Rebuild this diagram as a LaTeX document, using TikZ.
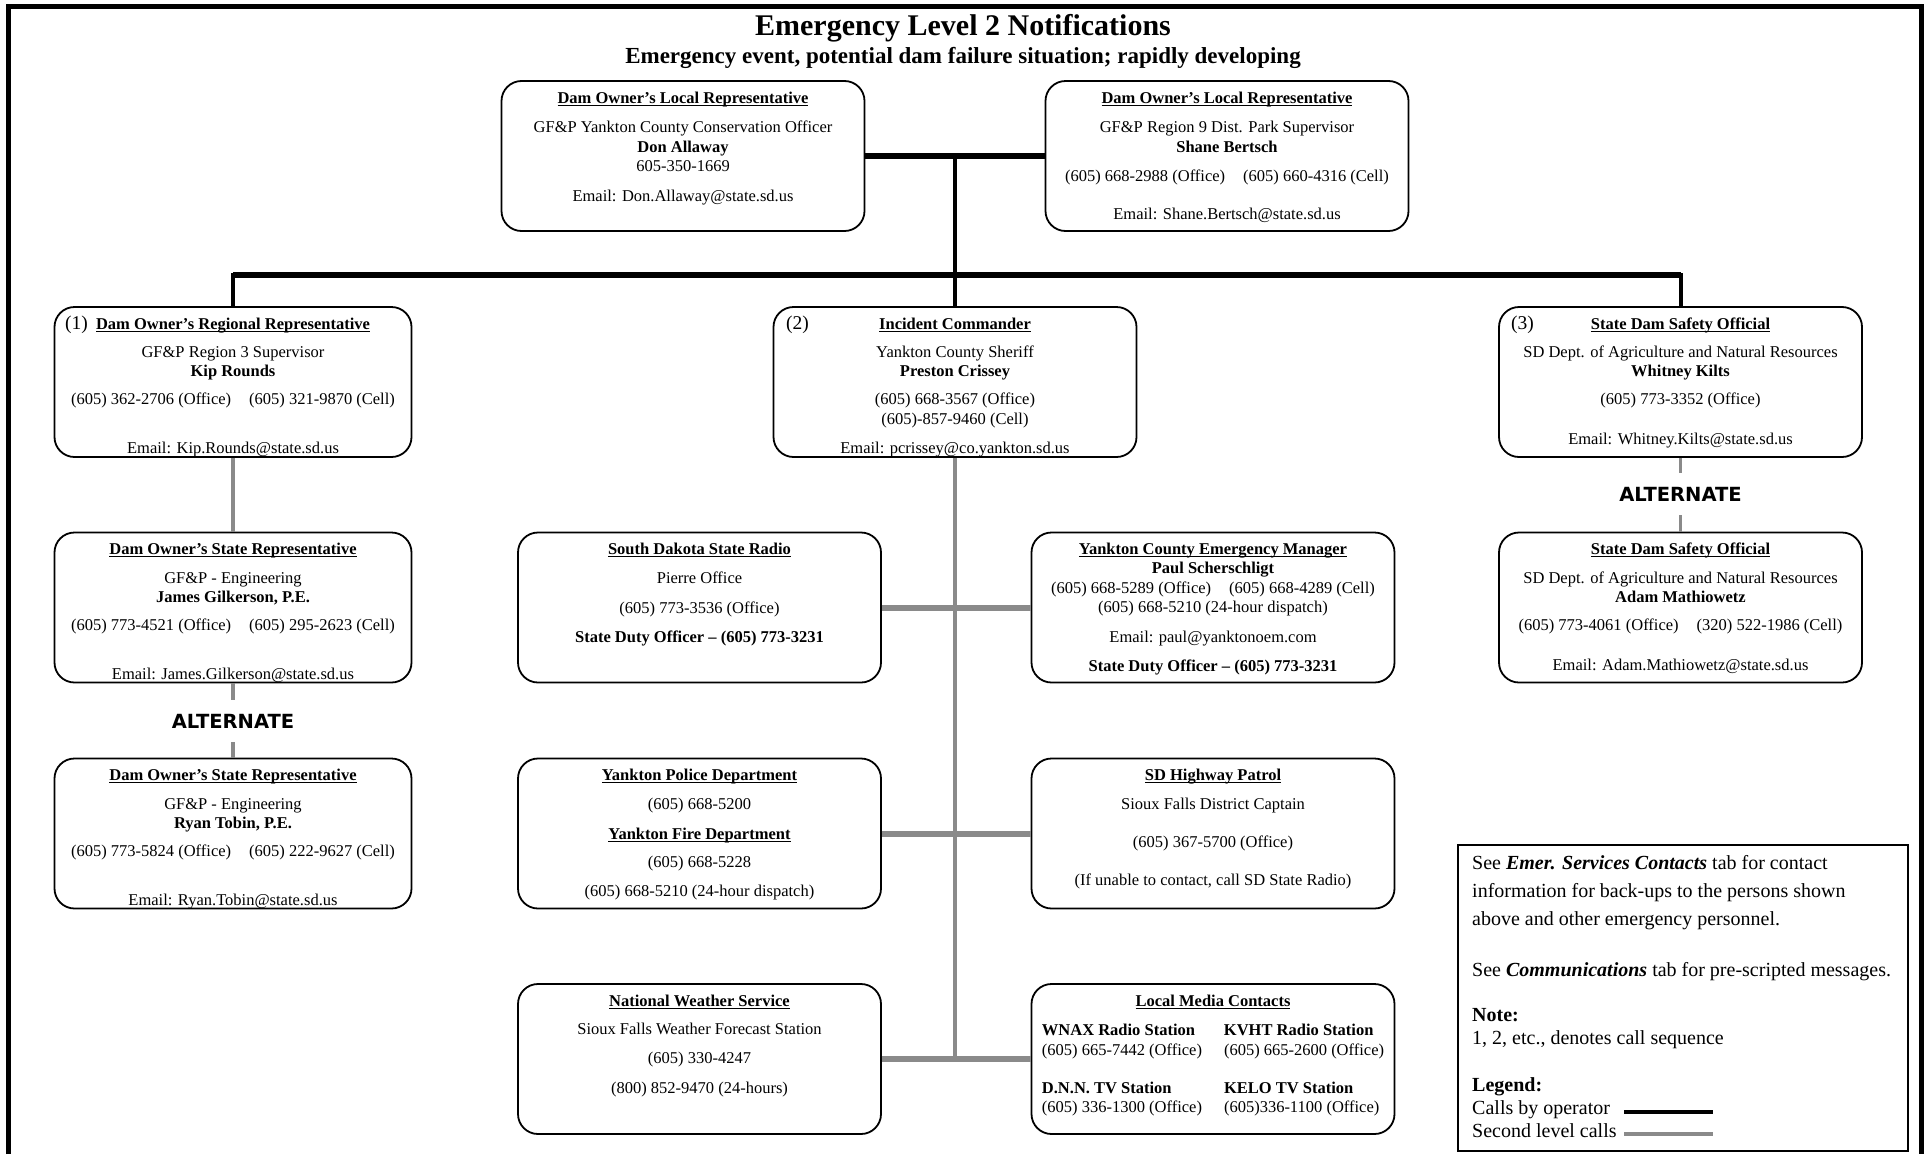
\documentclass[tikz,border=0pt]{standalone}
\usepackage{fontspec}
\setmainfont{Liberation Serif}
\newfontfamily\altfont{DejaVu Sans}
\usepackage{tikz}
\definecolor{callgray}{RGB}{138,138,138}
\newcommand{\ulhead}[1]{\setbox0=\hbox{\bfseries #1}\rlap{\rule[-2.6pt]{\wd0}{1.2pt}}\box0}

\begin{document}
\begin{tikzpicture}[
	x=1pt, y=-1pt,
	card/.style={
		draw,
		line width=1.8pt,
		rounded corners=20pt,
		minimum width=363pt,
		minimum height=150pt,
		inner sep=0pt
	},
	lcard/.style={
		card,
		minimum width=357pt
	},
	cardtxt/.style={
		anchor=north,
		align=center,
		inner sep=0pt,
		font=\fontsize{16.5}{19.5}\selectfont
	},
	seq/.style={
		anchor=base west,
		inner sep=0pt,
		font=\fontsize{19.5}{22}\selectfont
	},
	alt/.style={
		inner sep=0pt,
		minimum height=42pt,
		font=\altfont\bfseries\fontsize{19.5}{22}\selectfont
	},
	oph/.style={line width=6pt},
	opv/.style={line width=4pt},
	sech/.style={line width=6pt, callgray},
	secv/.style={line width=3.8pt, callgray}
	]
	
	\useasboundingbox (0,0) rectangle (1926,1154);
	\draw[line width=5pt] (8,1154) -- (8,6.5) -- (1921.5,6.5) -- (1921.5,1154);
	
	\node[anchor=base, font=\fontsize{30}{34}\selectfont\bfseries] at (963,35)
		(title) {Emergency Level 2 Notifications};
	\node[anchor=base, font=\fontsize{23}{26}\selectfont\bfseries] at (963,63)
		(subtitle) {Emergency event, potential dam failure situation; rapidly developing};
	
	% operator level
	\node[card] at (683,156)
		(loc1) {};
	\node[cardtxt] at (683,91.5)
		(loc1t) {\ulhead{Dam Owner's Local Representative}\\[10pt]
		GF\&P Yankton County Conservation Officer\\
		\textbf{Don Allaway}\\
		605-350-1669\\[10pt]
		Email: Don.Allaway@state.sd.us};
	
	\node[card] at (1227,156)
		(loc2) {};
	\node[cardtxt] at (1227,91.5)
		(loc2t) {\ulhead{Dam Owner's Local Representative}\\[10pt]
		GF\&P Region 9 Dist. Park Supervisor\\
		\textbf{Shane Bertsch}\\[9.5pt]
		(605) 668-2988 (Office)\hspace{18pt}(605) 660-4316 (Cell)\\[19pt]
		Email: Shane.Bertsch@state.sd.us};
	
	\node[lcard] at (233,382)
		(reg) {};
	\node[seq] at (65,329)
		(reg1) {(1)};
	\node[cardtxt] at (233,317.5)
		(regt) {\ulhead{Dam Owner's Regional Representative}\\[8.5pt]
		GF\&P Region 3 Supervisor\\
		\textbf{Kip Rounds}\\[8.5pt]
		(605) 362-2706 (Office)\hspace{18pt}(605) 321-9870 (Cell)\\[29.5pt]
		Email: Kip.Rounds@state.sd.us};
	
	\node[card] at (955,382)
		(ic) {};
	\node[seq] at (786,329)
		(ic2) {(2)};
	\node[cardtxt] at (955,317.5)
		(ict) {\ulhead{Incident Commander}\\[8.5pt]
		Yankton County Sheriff\\
		\textbf{Preston Crissey}\\[8.5pt]
		(605) 668-3567 (Office)\\
		(605)-857-9460 (Cell)\\[9.5pt]
		Email: pcrissey@co.yankton.sd.us};
	
	\node[card] at (1680.5,382)
		(dso) {};
	\node[seq] at (1511,329)
		(dso3) {(3)};
	\node[cardtxt] at (1680.5,317.5)
		(dsot) {\ulhead{State Dam Safety Official}\\[8.5pt]
		SD Dept. of Agriculture and Natural Resources\\
		\textbf{Whitney Kilts}\\[8.5pt]
		(605) 773-3352 (Office)\\[20pt]
		Email: Whitney.Kilts@state.sd.us};
	
	% left column
	\node[lcard] at (233,607.5)
		(st1) {};
	\node[cardtxt] at (233,542.5)
		(st1t) {\ulhead{Dam Owner's State Representative}\\[9.5pt]
		GF\&P - Engineering\\
		\textbf{James Gilkerson, P.E.}\\[8.5pt]
		(605) 773-4521 (Office)\hspace{18pt}(605) 295-2623 (Cell)\\[29.5pt]
		Email: James.Gilkerson@state.sd.us};
	
	\node[alt] at (233,721)
		(alt1) {ALTERNATE};
	
	\node[lcard] at (233,833.5)
		(st2) {};
	\node[cardtxt] at (233,768.5)
		(st2t) {\ulhead{Dam Owner's State Representative}\\[9.5pt]
		GF\&P - Engineering\\
		\textbf{Ryan Tobin, P.E.}\\[8.5pt]
		(605) 773-5824 (Office)\hspace{18pt}(605) 222-9627 (Cell)\\[29.5pt]
		Email: Ryan.Tobin@state.sd.us};
	
	% middle columns
	\node[card] at (699.5,607.5)
		(radio) {};
	\node[cardtxt] at (699.5,542.5)
		(radiot) {\ulhead{South Dakota State Radio}\\[9.5pt]
		Pierre Office\\[10.5pt]
		(605) 773-3536 (Office)\\[9.5pt]
		\textbf{State Duty Officer -- (605) 773-3231}};
	
	\node[card] at (1213,607.5)
		(em) {};
	\node[cardtxt] at (1213,542.5)
		(emt) {\ulhead{Yankton County Emergency Manager}\\
		\textbf{Paul Scherschligt}\\
		(605) 668-5289 (Office)\hspace{18pt}(605) 668-4289 (Cell)\\
		(605) 668-5210 (24-hour dispatch)\\[10pt]
		Email: paul@yanktonoem.com\\[10pt]
		\textbf{State Duty Officer -- (605) 773-3231}};
	
	\node[card] at (699.5,833.5)
		(police) {};
	\node[cardtxt] at (699.5,768.5)
		(policet) {\ulhead{Yankton Police Department}\\[9.5pt]
		(605) 668-5200\\[10.5pt]
		\ulhead{Yankton Fire Department}\\[8.5pt]
		(605) 668-5228\\[10pt]
		(605) 668-5210 (24-hour dispatch)};
	
	\node[card] at (1213,833.5)
		(hwy) {};
	\node[cardtxt] at (1213,768.5)
		(hwyt) {\ulhead{SD Highway Patrol}\\[9.5pt]
		Sioux Falls District Captain\\[18.5pt]
		(605) 367-5700 (Office)\\[19pt]
		(If unable to contact, call SD State Radio)};
	
	\node[card] at (699.5,1059)
		(nws) {};
	\node[cardtxt] at (699.5,994.5)
		(nwst) {\ulhead{National Weather Service}\\[8.5pt]
		Sioux Falls Weather Forecast Station\\[10pt]
		(605) 330-4247\\[10pt]
		(800) 852-9470 (24-hours)};
	
	\node[card] at (1213,1059)
		(media) {};
	\node[cardtxt] at (1213,992.7)
		(mediat) {\begin{tabular}{@{}l@{\hspace{22pt}}l@{}}
		\multicolumn{2}{c}{\ulhead{Local Media Contacts}}\\[9.5pt]
		\textbf{WNAX Radio Station} & \textbf{KVHT Radio Station}\\
		(605) 665-7442 (Office) & (605) 665-2600 (Office)\\[18.5pt]
		\textbf{D.N.N. TV Station} & \textbf{KELO TV Station}\\
		(605) 336-1300 (Office) & (605)336-1100 (Office)
		\end{tabular}};
	
	% right column
	\node[alt] at (1680.5,494)
		(alt2) {ALTERNATE};
	
	\node[card] at (1680.5,607.5)
		(dso2) {};
	\node[cardtxt] at (1680.5,542.5)
		(dso2t) {\ulhead{State Dam Safety Official}\\[9.5pt]
		SD Dept. of Agriculture and Natural Resources\\
		\textbf{Adam Mathiowetz}\\[8.5pt]
		(605) 773-4061 (Office)\hspace{18pt}(320) 522-1986 (Cell)\\[20pt]
		Email: Adam.Mathiowetz@state.sd.us};
	
	% legend
	\node[draw, line width=1.4pt, minimum width=450pt, minimum height=306pt, inner sep=0pt] at (1683,998)
		(legend) {};
	\node[anchor=north west, align=left, inner sep=0pt, font=\fontsize{20}{23}\selectfont] at (1472,855)
		(legendt) {See \textbf{\textit{Emer. Services Contacts}} tab for contact\\[5pt]
		information for back-ups to the persons shown\\[5pt]
		above and other emergency personnel.\\[28pt]
		See \textbf{\textit{Communications}} tab for pre-scripted messages.\\[22pt]
		\textbf{Note:}\\
		1, 2, etc., denotes call sequence\\[24pt]
		\textbf{Legend:}\\
		Calls by operator\\
		Second level calls};
	\coordinate (op1) at (1624,1112);
	\coordinate (op2) at (1713,1112);
	\coordinate (sc1) at (1624,1134);
	\coordinate (sc2) at (1713,1134);
	\draw[line width=4pt] (op1) -- (op2);
	\draw[line width=3.2pt, callgray] (sc1) -- (sc2);
	
	% calls by operator
	\coordinate (bar) at (0,275);
	\draw[oph] (loc1) -- (loc2);
	\draw[opv] (ic.north) -- (ic.north |- loc1.east);
	\draw[opv] (reg.north) -- (reg.north |- bar) -- (dso.north |- bar) -- (dso.north);
	\draw[oph] (reg.north |- bar) -- (dso.north |- bar);
	
	% second level calls
	\draw[secv] (ic.south) -- (ic.south |- nws.east);
	\draw[sech] (radio) -- (em);
	\draw[sech] (police) -- (hwy);
	\draw[sech] (nws) -- (media);
	\draw[secv] (reg) -- (st1);
	\draw[secv] (st1) -- (alt1);
	\draw[secv] (alt1) -- (st2);
	\draw[secv] (dso) -- (alt2);
	\draw[secv] (alt2) -- (dso2);
	
\end{tikzpicture}
\end{document}
